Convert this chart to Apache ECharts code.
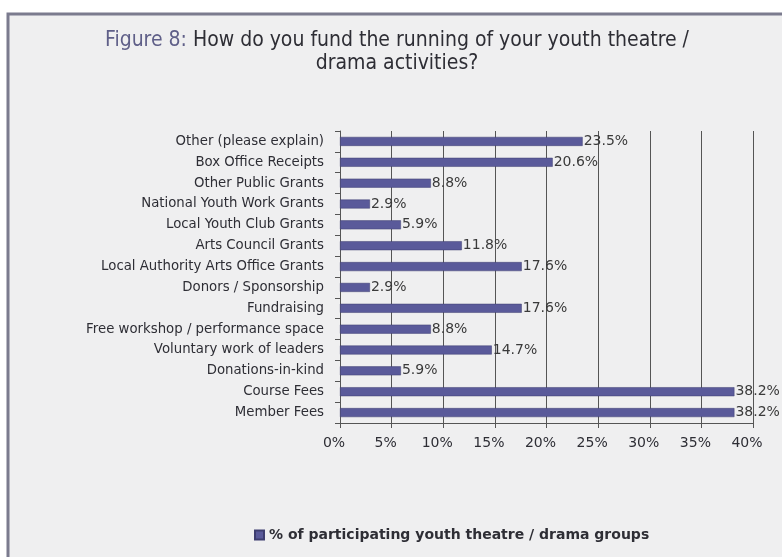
<!DOCTYPE html>
<html>
<head>
<meta charset="utf-8">
<script src="https://cdn.jsdelivr.net/npm/echarts@6/dist/echarts.min.js"></script>
<style>
  html, body { margin: 0; padding: 0; background: #ffffff; }
  #chart { width: 782px; height: 557px; }
</style>
</head>
<body>
<div id="chart"></div>
<script>
// Funding sources, listed top to bottom as drawn
const categories = [
  'Other (please explain)',
  'Box Office Receipts',
  'Other Public Grants',
  'National Youth Work Grants',
  'Local Youth Club Grants',
  'Arts Council Grants',
  'Local Authority Arts Office Grants',
  'Donors / Sponsorship',
  'Fundraising',
  'Free workshop / performance space',
  'Voluntary work of leaders',
  'Donations-in-kind',
  'Course Fees',
  'Member Fees'
];
const shares = [23.5, 20.6, 8.8, 2.9, 5.9, 11.8, 17.6, 2.9, 17.6, 8.8, 14.7, 5.9, 38.2, 38.2];
const seriesName = '% of participating youth theatre / drama groups';
const axisMax = 40;
const axisStep = 5;

const chart = echarts.init(document.getElementById('chart'));
const font = '"DejaVu Sans", "Noto Sans", sans-serif';
const narrow = '"Liberation Sans Narrow", "DejaVu Sans Condensed", sans-serif';

chart.setOption({
  backgroundColor: '#ffffff',
  animation: false,
  graphic: [
    { type: 'rect', shape: { x: 8, y: 14, width: 780, height: 550 }, style: { fill: '#efeff0' }, z: -10 },
    { type: 'polyline', shape: { points: [[8, 560], [8, 14], [782, 14]] }, style: { stroke: '#7b7b8e', lineWidth: 3, fill: null }, z: -9 }
  ],
  title: {
    left: 392, top: 24, textAlign: 'center',
    text: '{fig|Figure 8:} How do you fund the running of your youth theatre /\ndrama activities?',
    textStyle: {
      fontFamily: narrow, fontSize: 21, fontWeight: 'normal', color: '#2e2e35', lineHeight: 23,
      rich: { fig: { color: '#5f5f88', fontSize: 21, fontFamily: narrow } }
    }
  },
  legend: {
    left: 249, top: 523,
    itemWidth: 9, itemHeight: 9, itemGap: 4,
    icon: 'rect',
    textStyle: { fontFamily: font, fontSize: 14, color: '#2e2e35', fontWeight: 'bold' },
    data: [seriesName]
  },
  grid: { left: 340, right: 29, top: 131, bottom: 134 },
  xAxis: {
    type: 'value', min: 0, max: axisMax, interval: axisStep,
    axisLine: { show: true, lineStyle: { color: '#555' } },
    axisTick: { show: true, length: 5, lineStyle: { color: '#555' } },
    axisLabel: { formatter: '{value}%', fontFamily: font, fontSize: 14, color: '#2e2e35', margin: 13, padding: [0, 12, 0, 0] },
    splitLine: { show: true, lineStyle: { color: '#555', width: 1 } }
  },
  yAxis: {
    type: 'category', data: categories, inverse: true,
    axisLine: { show: true, lineStyle: { color: '#555' } },
    axisTick: { show: true, length: 5, lineStyle: { color: '#555' } },
    axisLabel: { fontFamily: font, fontSize: 13.3, color: '#2e2e35', margin: 16 }
  },
  series: [{
    name: seriesName,
    type: 'bar',
    data: shares,
    barWidth: 9,
    itemStyle: { color: '#5a5a9a', borderColor: '#3e3e70', borderWidth: 0.5 },
    label: {
      show: true, position: 'right', distance: 1,
      formatter: p => p.value.toFixed(1) + '%',
      fontFamily: font, fontSize: 14, color: '#3a3a3a'
    }
  }]
});
</script>
</body>
</html>
